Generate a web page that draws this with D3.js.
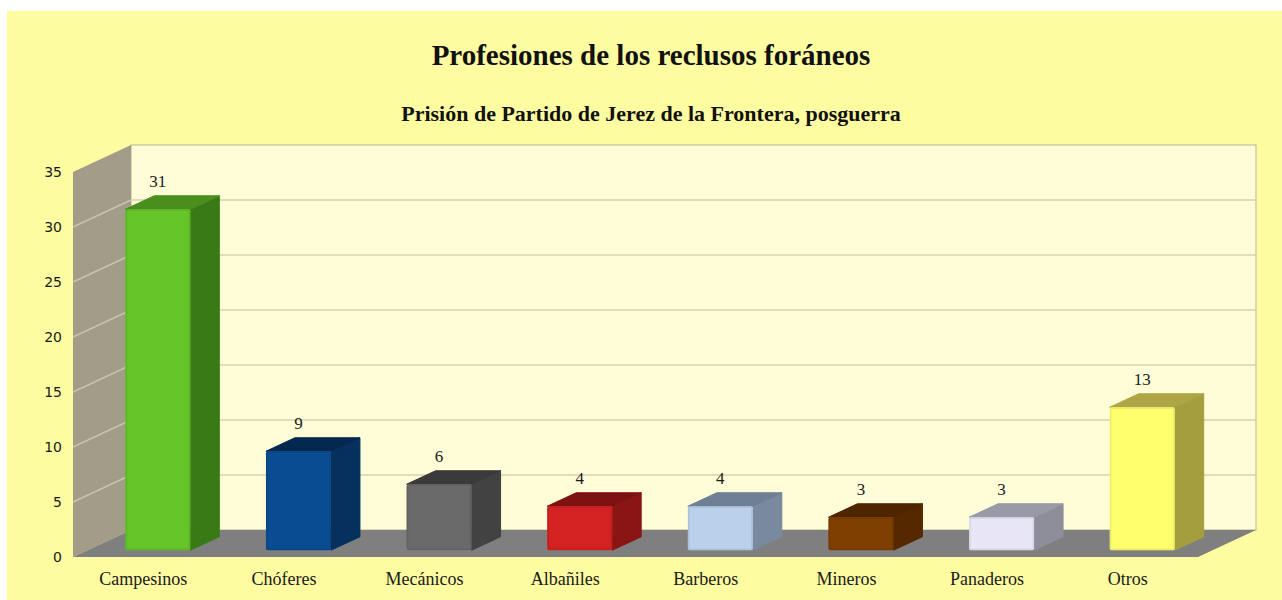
<!DOCTYPE html>
<html><head><meta charset="utf-8">
<script src="https://cdn.jsdelivr.net/npm/d3@7"></script>
<style>html,body{margin:0;padding:0;background:#fff;}svg{display:block;}</style>
</head><body>
<svg id="chart" width="1282" height="600"></svg>
<script>
const categories = ["Campesinos","Chóferes","Mecánicos","Albañiles","Barberos","Mineros","Panaderos","Otros"];
const values = [31, 9, 6, 4, 4, 3, 3, 13];
const yTicks = [0, 5, 10, 15, 20, 25, 30, 35];
const frontColors = ["#64c428","#0a4c92","#6a6a6a","#d42222","#b9d1ea","#7f3f00","#e8e6f6","#ffff6e"];
const sideColors  = ["#3a7a16","#06305e","#424242","#8b1515","#7a8a9e","#552800","#8e8e9a","#a59e3e"];
const topColors   = ["#4a8f1e","#05284f","#3a3a3a","#7e1212","#6f7f94","#4f2500","#9a9aa6","#aea646"];
const title = "Profesiones de los reclusos foráneos";
const subtitle = "Prisión de Partido de Jerez de la Frontera, posguerra";

const svg = d3.select("#chart");
svg.append("rect").attr("x",7).attr("y",11).attr("width",1275).attr("height",589).attr("fill","#fefca0");

const left = 73, right = 1198;
const DX = 58, DY = -27;
const y = d3.scaleLinear().domain([0,35]).range([557,172]);
const x = d3.scaleBand().domain(categories).range([left,right]).paddingInner(0).paddingOuter(0);
const barW = 65;

// back wall
svg.append("rect").attr("x",left+DX).attr("y",y(35)+DY).attr("width",right-left).attr("height",y(0)-y(35))
  .attr("fill","#fefdd8").attr("stroke","#b9b590").attr("stroke-width",1);
// left wall
svg.append("path").attr("d",`M${left},${y(0)} L${left},${y(35)} L${left+DX},${y(35)+DY} L${left+DX},${y(0)+DY} Z`)
  .attr("fill","#a39c88");
// gridlines
const grid = svg.append("g");
yTicks.filter(t=>t>0 && t<35).forEach(t=>{
  grid.append("line").attr("x1",left+DX).attr("x2",right+DX).attr("y1",y(t)+DY).attr("y2",y(t)+DY)
    .attr("stroke","#d6d2b2").attr("stroke-width",1.5);
  grid.append("line").attr("x1",left).attr("x2",left+DX).attr("y1",y(t)).attr("y2",y(t)+DY)
    .attr("stroke","#c9c2ae").attr("stroke-width",1.5);
});
// floor
svg.append("path").attr("d",`M${left},${y(0)} L${left+DX},${y(0)+DY} L${right+DX},${y(0)+DY} L${right},${y(0)} Z`)
  .attr("fill","#7f7f7f");

// y axis
const yAxis = d3.axisLeft(y).tickValues(yTicks).tickSize(0).tickPadding(11);
const ga = svg.append("g").attr("transform",`translate(${left},0)`).call(yAxis);
ga.select(".domain").remove();
ga.selectAll("text").attr("font-family","DejaVu Sans").attr("font-size",14).attr("fill","#1a1a1a");

// bars
const f0 = 0.25, f1 = 0.75;
const bdx = DX*(f1-f0), bdy = DY*(f1-f0);
const bars = svg.append("g");
categories.forEach((c,i)=>{
  const v = values[i];
  const cx = x(c) + x.bandwidth()/2 + DX*f0;
  const x0 = cx - barW/2, x1 = cx + barW/2;
  const yb = y(0) + DY*f0, yt = y(v) + DY*f0;
  const g = bars.append("g");
  g.append("path").attr("d",`M${x1},${yb} L${x1+bdx},${yb+bdy} L${x1+bdx},${yt+bdy} L${x1},${yt} Z`)
    .attr("fill",sideColors[i]).attr("stroke",sideColors[i]).attr("stroke-width",1).attr("stroke-linejoin","round");
  g.append("path").attr("d",`M${x0},${yt} L${x0+bdx},${yt+bdy} L${x1+bdx},${yt+bdy} L${x1},${yt} Z`)
    .attr("fill",topColors[i]).attr("stroke",topColors[i]).attr("stroke-width",1).attr("stroke-linejoin","round");
  g.append("rect").attr("x",x0).attr("y",yt).attr("width",barW).attr("height",yb-yt)
    .attr("rx",2).attr("fill",frontColors[i]);
  g.append("rect").attr("x",x0+1).attr("y",yt+1).attr("width",barW-2).attr("height",yb-yt-2)
    .attr("rx",2).attr("fill","none").attr("stroke",d3.color(frontColors[i]).darker(0.35)).attr("stroke-width",1.5).attr("opacity",0.6);
  svg.append("text").attr("x",cx).attr("y",yt+bdy-9).attr("text-anchor","middle")
    .attr("font-family","Liberation Serif").attr("font-size",17).attr("fill","#1a1a1a").text(v);
});

// category labels
svg.append("g").selectAll("text").data(categories).join("text")
  .attr("x",d=>x(d)+x.bandwidth()/2).attr("y",585).attr("text-anchor","middle")
  .attr("font-family","Liberation Serif").attr("font-size",18).attr("fill","#1a1a1a").text(d=>d);

// titles
svg.append("text").attr("x",651).attr("y",65).attr("text-anchor","middle")
  .attr("font-family","Liberation Serif").attr("font-weight","bold").attr("font-size",29).attr("fill","#111").text(title);
svg.append("text").attr("x",651).attr("y",121).attr("text-anchor","middle")
  .attr("font-family","Liberation Serif").attr("font-weight","bold").attr("font-size",22).attr("fill","#111").text(subtitle);
</script>
</body></html>
